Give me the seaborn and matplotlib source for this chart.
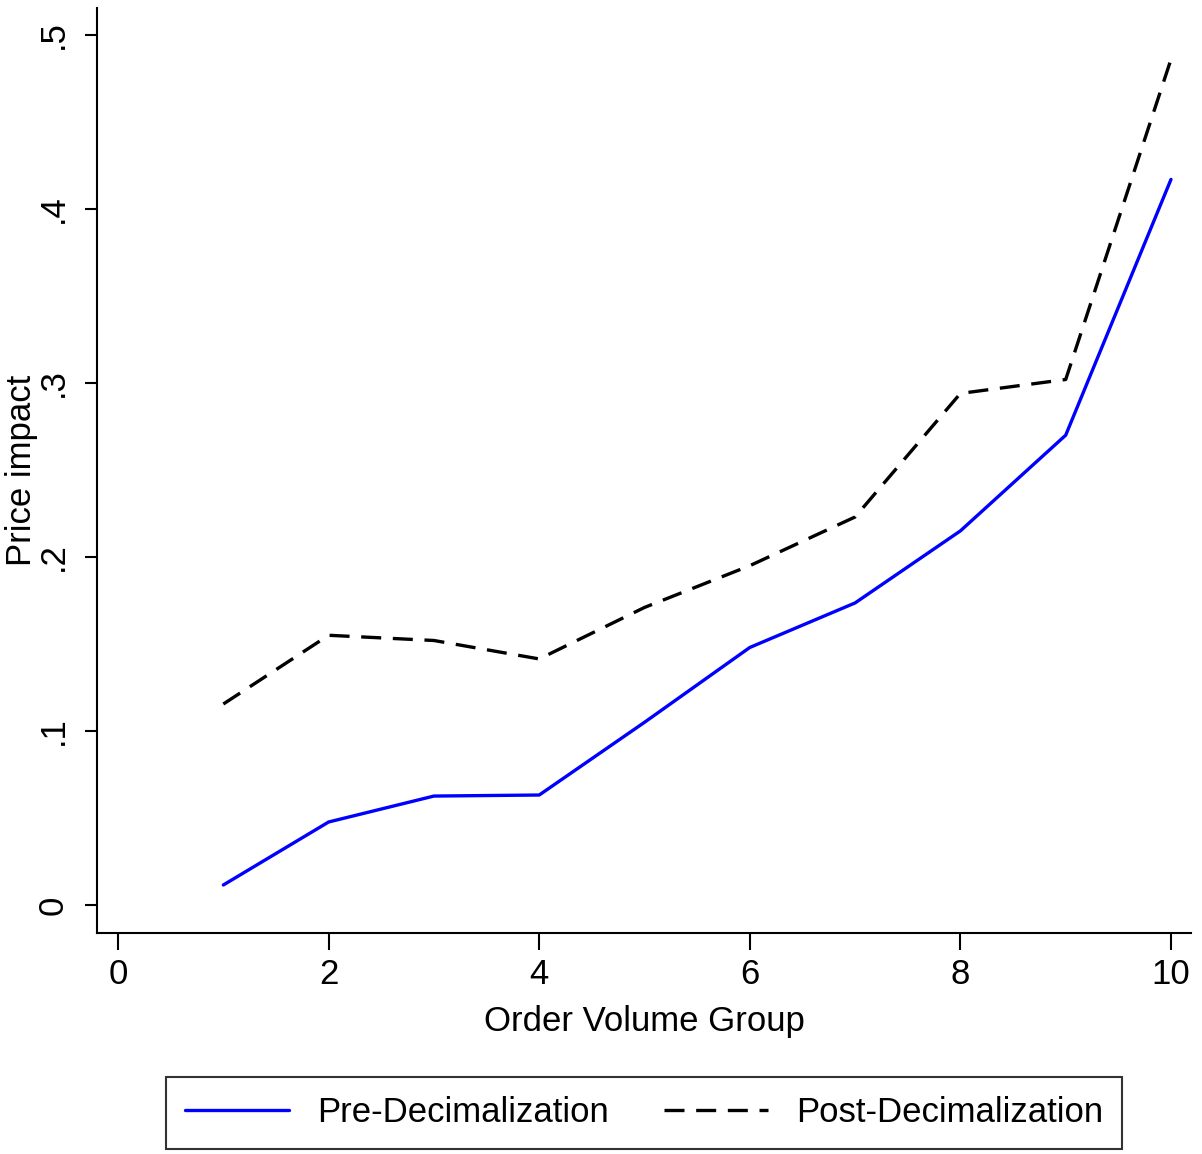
import matplotlib
matplotlib.use("Agg")
import matplotlib.pyplot as plt
import seaborn as sns
import pandas as pd

groups = [1, 2, 3, 4, 5, 6, 7, 8, 9, 10]
pre_values = [0.0115, 0.0477, 0.0626, 0.0632, 0.105, 0.148, 0.1736, 0.215, 0.270, 0.417]
post_values = [0.1155, 0.155, 0.152, 0.1414, 0.171, 0.195, 0.223, 0.294, 0.302, 0.486]
series_names = ["Pre-Decimalization", "Post-Decimalization"]
x_ticks = [0, 2, 4, 6, 8, 10]
y_ticks = [0, 0.1, 0.2, 0.3, 0.4, 0.5]
y_tick_labels = ["0", ".1", ".2", ".3", ".4", ".5"]

df = pd.DataFrame({
    "group": groups * 2,
    "impact": pre_values + post_values,
    "series": [series_names[0]] * len(groups) + [series_names[1]] * len(groups),
})

sns.set_theme(style="white")
plt.rcParams["font.family"] = ["Liberation Sans", "DejaVu Sans"]
plt.rcParams["text.color"] = "black"
plt.rcParams["axes.labelcolor"] = "black"
plt.rcParams["xtick.color"] = "black"
plt.rcParams["ytick.color"] = "black"

FS = 25

fig = plt.figure(figsize=(12.02, 11.54), dpi=100)
ax = fig.add_axes([97 / 1202, 1 - 933 / 1154, (1191 - 97) / 1202, (933 - 8) / 1154])

sns.lineplot(
    data=df, x="group", y="impact", hue="series", style="series",
    palette={series_names[0]: "#0000ff", series_names[1]: "black"},
    dashes={series_names[0]: "", series_names[1]: (6, 3.5)},
    linewidth=2.4, ax=ax, legend=False, hue_order=series_names, style_order=series_names,
)

ax.set_xlim(-0.2, 10.19)
ax.set_ylim(-0.0161, 0.5155)
ax.set_xticks(x_ticks)
ax.set_xticklabels([str(t) for t in x_ticks])
ax.set_yticks(y_ticks)
ax.set_yticklabels(y_tick_labels, rotation=90, va="center")

for side in ["top", "right"]:
    ax.spines[side].set_visible(False)
for side in ["left", "bottom"]:
    ax.spines[side].set_color("black")
    ax.spines[side].set_linewidth(1.5)

ax.tick_params(axis="x", direction="out", length=12, width=1.5, color="black",
               labelsize=FS, labelcolor="black", pad=6, bottom=True)
ax.tick_params(axis="y", direction="out", length=8.6, width=1.5, color="black",
               labelsize=FS, labelcolor="black", pad=11, left=True)
ax.set_xlabel("Order Volume Group", fontsize=FS, labelpad=10, color="black")
ax.set_ylabel("Price impact", fontsize=FS, color="black")
ax.yaxis.set_label_coords(-0.054, 0.5)
ax.grid(False)

handles = [
    plt.Line2D([], [], color="#0000ff", linewidth=2.4),
    plt.Line2D([], [], color="black", linewidth=2.4, dashes=(6, 3.5)),
]
leg = fig.legend(handles, series_names, loc="center", bbox_to_anchor=(644 / 1202, 1 - 1113 / 1154),
                 ncol=2, fontsize=FS, frameon=True, fancybox=False, handlelength=3.0,
                 handletextpad=0.8, columnspacing=1.6, borderpad=0.55)
leg.get_frame().set_edgecolor("black")
leg.get_frame().set_linewidth(1.5)
for t in leg.get_texts():
    t.set_color("black")

fig.savefig("out.png", dpi=100, facecolor="white")
